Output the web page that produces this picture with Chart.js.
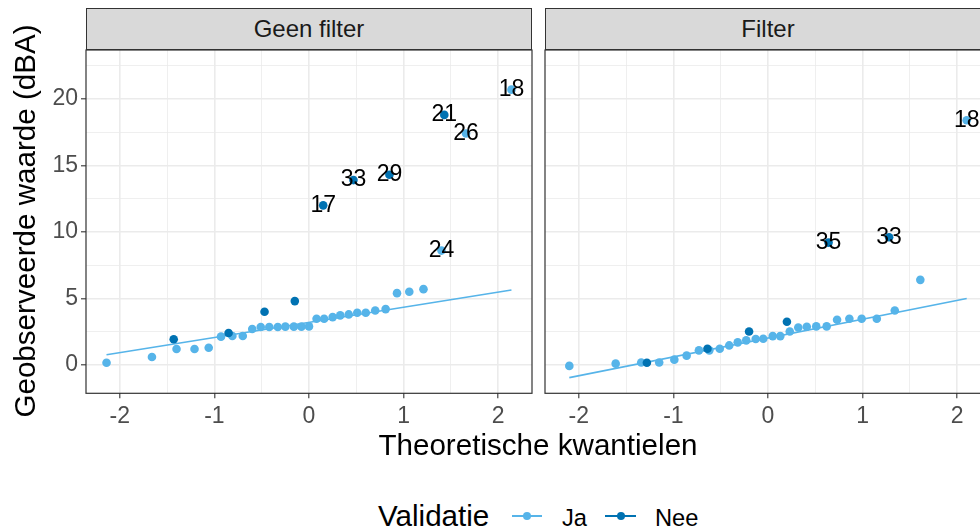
<!DOCTYPE html>
<html>
<head>
<meta charset="utf-8">
<script src="https://cdn.jsdelivr.net/npm/chart.js@4.4.1/dist/chart.umd.min.js"></script>
<style>
  html, body { margin: 0; padding: 0; background: #fff; }
  body { width: 980px; height: 532px; overflow: hidden; position: relative;
         font-family: "Liberation Sans", Arial, sans-serif; }
  canvas { position: absolute; }
  .strip { position: absolute; top: 8px; height: 42px; width: 446px; box-sizing: border-box;
           background: #D9D9D9; border: 1px solid #333333; color: #1A1A1A;
           font-size: 24px; line-height: 40px; text-align: center; }
  .txt { position: absolute; white-space: nowrap; color: #000; }
  .key-line { position: absolute; height: 2px; }
  .key-dot { position: absolute; width: 8px; height: 8px; border-radius: 50%; }
</style>
</head>
<body>
<div class="strip" style="left:86px">Geen filter</div>
<div class="strip" style="left:545px">Filter</div>

<canvas id="geen" width="540" height="400" style="left:0;top:40px"></canvas>
<canvas id="filter" width="462" height="400" style="left:537px;top:40px"></canvas>

<div class="txt" style="left:-175px;top:206px;width:400px;height:30px;font-size:29.6px;line-height:30px;text-align:center;transform:rotate(-90deg)">Geobserveerde waarde (dBA)</div>
<div class="txt" style="left:338px;top:430px;width:400px;font-size:29.6px;line-height:30px;text-align:center">Theoretische kwantielen</div>

<div class="txt" style="left:378px;top:501px;font-size:29.6px;line-height:30px">Validatie</div>
<div class="key-line" style="left:512px;top:515px;width:30px;background:#56B4E9"></div>
<div class="key-dot" style="left:523px;top:512px;background:#56B4E9"></div>
<div class="txt" style="left:562px;top:506px;font-size:23.7px;line-height:24px">Ja</div>
<div class="key-line" style="left:605px;top:515px;width:31px;background:#0072B2"></div>
<div class="key-dot" style="left:617px;top:512px;background:#0072B2"></div>
<div class="txt" style="left:655px;top:506px;font-size:23.7px;line-height:24px">Nee</div>

<script>
// Validatie = Ja, paneel "Geen filter"
const jaXGeen = [-2.14, -1.66, -1.40, -1.21, -1.06, -0.93, -0.81, -0.70, -0.60, -0.51, -0.42, -0.33, -0.25, -0.16, -0.08, 0,
                 0.08, 0.16, 0.25, 0.33, 0.42, 0.51, 0.60, 0.70, 0.81, 0.93, 1.06, 1.21, 1.40, 1.66, 2.14];
const jaYGeen = [0.17, 0.6, 1.2, 1.2, 1.3, 2.13, 2.18, 2.18, 2.7, 2.85, 2.85, 2.85, 2.88, 2.88, 2.88, 2.9,
                 3.48, 3.48, 3.6, 3.73, 3.8, 3.93, 3.93, 4.1, 4.2, 5.4, 5.5, 5.7, 8.6, 17.4, 20.7];
const jaLabGeen = ['', '', '', '', '', '', '', '', '', '', '', '', '', '', '', '',
                   '', '', '', '', '', '', '', '', '', '', '', '', '24', '26', '18'];
// Validatie = Nee, paneel "Geen filter"
const neeXGeen = [-1.43, -0.85, -0.47, -0.15, 0.15, 0.47, 0.85, 1.43];
const neeYGeen = [1.93, 2.4, 4.0, 4.8, 12.0, 13.9, 14.3, 18.8];
const neeLabGeen = ['', '', '', '', '17', '33', '29', '21'];
// qq-lijn "Geen filter"
const lijnXGeen = [-2.14, 2.14];
const lijnYGeen = [0.77, 5.64];

// Validatie = Ja, paneel "Filter"
const jaXFilter = [-2.10, -1.61, -1.34, -1.15, -0.99, -0.86, -0.73, -0.62, -0.51, -0.41, -0.32, -0.23, -0.13, -0.05,
                   0.05, 0.13, 0.23, 0.32, 0.41, 0.51, 0.62, 0.73, 0.86, 0.99, 1.15, 1.34, 1.61, 2.10];
const jaYFilter = [-0.07, 0.1, 0.18, 0.18, 0.4, 0.7, 1.1, 1.1, 1.22, 1.47, 1.7, 1.85, 1.95, 1.97,
                   2.17, 2.17, 2.52, 2.82, 2.87, 2.9, 2.9, 3.4, 3.47, 3.47, 3.47, 4.1, 6.4, 18.4];
const jaLabFilter = ['', '', '', '', '', '', '', '', '', '', '', '', '', '',
                     '', '', '', '', '', '', '', '', '', '', '', '', '', '18'];
// Validatie = Nee, paneel "Filter"
const neeXFilter = [-1.28, -0.64, -0.20, 0.20, 0.64, 1.28];
const neeYFilter = [0.17, 1.22, 2.52, 3.25, 9.2, 9.6];
const neeLabFilter = ['', '', '', '', '35', '33'];
// qq-lijn "Filter"
const lijnXFilter = [-2.10, 2.10];
const lijnYFilter = [-0.95, 5.0];

const xTicksMajor = [-2, -1, 0, 1, 2];
const yTicksMajor = [0, 5, 10, 15, 20];

const kleurJa = '#56B4E9';
const kleurNee = '#0072B2';
const fontFam = '"Liberation Sans", Arial, sans-serif';

const pts = (xs, ys) => xs.map((x, i) => ({ x: x, y: ys[i] }));
const isMajor = (v, list) => list.some(m => Math.abs(m - v) < 1e-9);

// panel border + text labels at the points
const panelPlugin = {
  id: 'panel',
  afterDatasetsDraw(chart) {
    const ctx = chart.ctx, a = chart.chartArea;
    ctx.save();
    ctx.beginPath();
    ctx.rect(a.left, a.top, a.right - a.left, a.bottom - a.top);
    ctx.clip();
    ctx.font = '23px ' + fontFam;
    ctx.fillStyle = '#000';
    ctx.textAlign = 'center';
    ctx.textBaseline = 'middle';
    chart.data.datasets.forEach((ds, i) => {
      if (!ds.puntLabels) return;
      chart.getDatasetMeta(i).data.forEach((el, j) => {
        const t = ds.puntLabels[j];
        if (t) ctx.fillText(t, el.x, el.y);
      });
    });
    ctx.restore();
  },
  afterDraw(chart) {
    const ctx = chart.ctx, a = chart.chartArea;
    ctx.save();
    ctx.strokeStyle = '#333333';
    ctx.lineWidth = 1.2;
    ctx.strokeRect(a.left, a.top, a.right - a.left, a.bottom - a.top);
    ctx.restore();
  }
};

function maakPaneel(id, ja, nee, lijn, metYLabels, yBreedte, rechts) {
  return new Chart(document.getElementById(id), {
    type: 'scatter',
    data: {
      datasets: [
        { label: 'Nee', data: pts(nee[0], nee[1]), puntLabels: nee[2],
          backgroundColor: kleurNee, borderWidth: 0, pointRadius: 4.3 },
        { label: 'Ja', data: pts(ja[0], ja[1]), puntLabels: ja[2],
          backgroundColor: kleurJa, borderWidth: 0, pointRadius: 4.3 },
        { label: 'lijn', data: pts(lijn[0], lijn[1]), showLine: true,
          borderColor: kleurJa, borderWidth: 1.6, pointRadius: 0 }
      ]
    },
    options: {
      responsive: false,
      animation: false,
      events: [],
      layout: { padding: { top: 10, right: rechts, left: 0, bottom: 0 } },
      plugins: { legend: { display: false }, tooltip: { enabled: false } },
      scales: {
        x: {
          type: 'linear', min: -2.357, max: 2.357,
          border: { display: false },
          grid: {
            color: '#EBEBEB',
            lineWidth: c => isMajor(c.tick.value, xTicksMajor) ? 1.6 : 0.8,
            tickColor: c => isMajor(c.tick.value, xTicksMajor) ? '#333333' : 'rgba(0,0,0,0)',
            tickWidth: 1.1,
            tickLength: 5
          },
          ticks: {
            stepSize: 0.5, includeBounds: false, autoSkip: false, maxRotation: 0, padding: 5,
            color: '#4D4D4D', font: { family: fontFam, size: 23 },
            callback: v => isMajor(v, xTicksMajor) ? String(v) : ''
          },
          afterFit: s => { s.height = 46.7; s.paddingLeft = 0; s.paddingRight = 0; }
        },
        y: {
          type: 'linear', min: -2.13, max: 23.68,
          border: { display: false },
          grid: {
            color: '#EBEBEB',
            lineWidth: c => isMajor(c.tick.value, yTicksMajor) ? 1.6 : 0.8,
            tickColor: c => isMajor(c.tick.value, yTicksMajor) ? '#333333' : 'rgba(0,0,0,0)',
            tickWidth: 1.1,
            tickLength: 5,
            drawTicks: metYLabels
          },
          ticks: {
            display: metYLabels,
            stepSize: 2.5, includeBounds: false, autoSkip: false, padding: 3,
            color: '#4D4D4D', font: { family: fontFam, size: 23 },
            callback: v => isMajor(v, yTicksMajor) ? String(v) : ''
          },
          afterFit: s => { s.width = yBreedte; s.paddingTop = 0; s.paddingBottom = 0; }
        }
      }
    },
    plugins: [panelPlugin]
  });
}

maakPaneel('geen',
  [jaXGeen, jaYGeen, jaLabGeen],
  [neeXGeen, neeYGeen, neeLabGeen],
  [lijnXGeen, lijnYGeen], true, 86, 8);

maakPaneel('filter',
  [jaXFilter, jaYFilter, jaLabFilter],
  [neeXFilter, neeYFilter, neeLabFilter],
  [lijnXFilter, lijnYFilter], false, 8, 8);
</script>
</body>
</html>
